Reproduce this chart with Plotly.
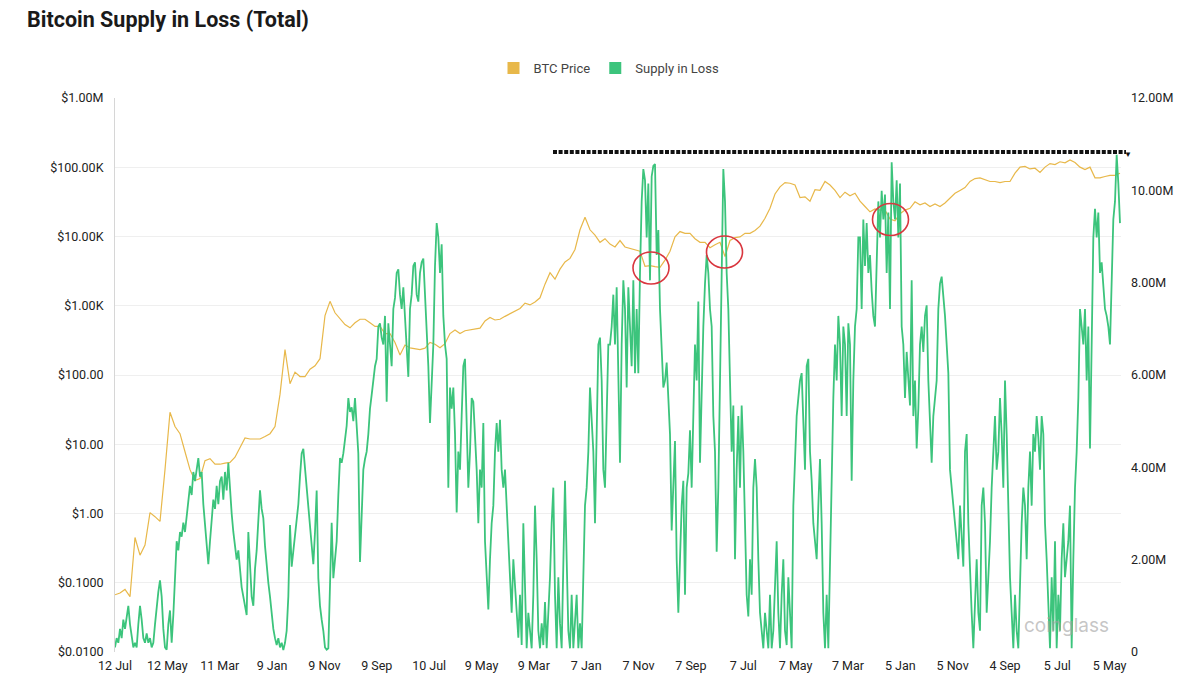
import numpy as np
import plotly.graph_objects as go

# ---------------- data ----------------
SAMPLE_DAYS = 9.678          # spacing of the supply samples, in chart days
PRICE_EVERY = 3              # one price sample every 3 supply samples
TICK_STEP_DAYS = 304
TICK_LABELS = ["12 Jul", "12 May", "11 Mar", "9 Jan", "9 Nov", "9 Sep", "10 Jul",
               "9 May", "9 Mar", "7 Jan", "7 Nov", "7 Sep", "7 Jul", "7 May",
               "7 Mar", "5 Jan", "5 Nov", "4 Sep", "5 Jul", "5 May"]

PRICE_TICKS = [0.01, 0.1, 1, 10, 100, 1e3, 1e4, 1e5, 1e6]
PRICE_TICK_TEXT = ["$0.0100", "$0.1000", "$1.00", "$10.00", "$100.00",
                   "$1.00K", "$10.00K", "$100.00K", "$1.00M"]
SUPPLY_TICKS = [0, 2, 4, 6, 8, 10, 12]
SUPPLY_TICK_TEXT = ["0", "2.00M", "4.00M", "6.00M", "8.00M", "10.00M", "12.00M"]

# Supply in loss, millions of BTC
SUPPLY_IN_LOSS_M = [
    0.1, 0.3, 0.2, 0.5, 0.3, 0.7, 0.5, 0.8, 1.0, 0.6,
    0.3, 0.1, 0.2, 0.1, 0.6, 1.0, 0.7, 0.3, 0.2, 0.4,
    0.2, 0.3, 0.1, 0.2, 0.6, 1.0, 1.3, 1.55, 1.2, 0.5,
    0.1, 0.05, 0.6, 0.9, 0.2, 0.8, 1.6, 2.4, 2.2, 2.6,
    2.5, 2.8, 2.6, 2.9, 3.3, 3.6, 3.4, 3.9, 3.7, 4.0,
    4.2, 3.8, 3.9, 3.2, 2.8, 2.3, 1.9, 2.4, 2.9, 3.3,
    3.1, 3.6, 3.2, 3.7, 3.8, 3.3, 3.9, 3.5, 4.1, 3.4,
    3.0, 2.6, 2.3, 2.0, 2.2, 1.7, 1.4, 1.2, 1.0, 0.8,
    2.6, 1.8, 1.2, 1.0, 1.8, 2.2, 2.9, 3.5, 3.1, 2.9,
    2.3, 1.85, 1.5, 1.2, 0.8, 0.5, 0.3, 0.15, 0.3, 0.1,
    0.2, 0.04, 0.2, 0.46, 1.2, 2.75, 1.85, 2.2, 2.4, 2.9,
    3.2, 3.8, 4.3, 4.4, 4.0, 3.6, 3.2, 2.8, 2.3, 1.9,
    2.6, 3.5, 1.6, 1.0, 0.7, 0.46, 0.1, 0.05, 0.08, 1.24,
    2.8, 1.6, 2.0, 2.4, 3.4, 4.2, 4.1, 4.3, 4.6, 4.9,
    5.5, 5.2, 5.3, 5.0, 5.5, 4.8, 4.3, 1.95,
    3.17, 3.95, 4.18, 4.34, 4.72, 5.27, 5.57, 5.88, 6.19, 6.35,
    7.05, 7.12, 6.81, 6.66, 7.28, 5.42, 7.12, 6.66, 6.19, 7.43,
    7.67, 8.21, 8.29, 7.74, 7.43, 7.90, 7.28, 6.66, 5.96, 7.43,
    7.74, 8.36, 8.44, 7.74, 7.59, 8.21, 8.44, 8.52, 7.74, 7.28,
    6.19, 4.96, 6.04, 6.66, 8.36, 9.29, 8.98, 8.21, 8.83, 7.28,
    6.66, 6.35, 3.56, 5.73, 5.27, 5.73, 4.72, 3.02, 4.34, 3.95,
    5.11, 6.19, 6.35, 5.11, 3.56, 4.34, 5.50, 5.42, 4.72, 3.95,
    2.79, 3.95, 3.56, 4.96, 2.40, 1.62, 0.92, 2.01, 2.79, 3.17,
    4.34, 4.96, 4.34, 5.03, 3.95, 3.56, 3.95, 3.17, 2.40, 1.85,
    0.85, 2.01, 1.39, 0.85, 0.31, 1.24, 0.15, 2.79, 1.24, 0.08,
    0.85, 0.46, 0.08, 1.24, 3.17, 2.01, 0.46, 0.08, 0.62, 0.15,
    1.08, 0.08, 0.85, 1.62, 2.79, 3.56, 1.24, 0.08, 1.62, 0.62,
    0.08, 2.01, 3.71, 2.01, 0.46, 0.08, 1.24, 0.08, 0.62, 1.24,
    0.08, 0.62, 0.08, 2.01, 3.17, 3.56, 4.34, 5.73, 5.11, 4.34,
    2.79, 5.11, 6.66, 6.81, 5.88, 3.95, 3.56, 5.11, 6.66,
    6.66, 7.05, 7.74, 6.66, 7.90, 6.27, 4.10, 6.66, 8.05, 7.43,
    5.73, 7.90, 7.05, 6.19, 8.05, 6.04, 7.43, 6.04, 8.21, 9.76,
    10.46, 10.22, 8.98, 10.15, 8.05, 10.30, 10.53, 10.57, 8.60, 9.14,
    7.43, 6.66, 5.73, 5.88, 6.27, 5.50, 4.72, 2.63, 3.56, 4.57,
    2.01, 0.85, 2.01, 3.17, 3.71, 1.24, 3.56, 3.87, 4.80, 3.56,
    5.11, 6.66, 5.88, 7.59, 4.10, 5.88, 7.05, 7.98, 8.60, 8.21,
    7.43, 7.05, 5.11, 4.34, 2.17, 3.56, 5.88, 7.43, 10.46, 9.76,
    8.21, 7.43, 5.88, 4.34, 5.34, 2.01, 3.95, 5.11, 3.56, 5.34,
    4.34, 2.79, 1.24, 0.77, 2.01, 1.24, 3.56, 4.18, 3.56, 2.01,
    0.85, 0.46, 0.08, 0.85, 0.46, 0.08, 1.24, 0.08, 0.46, 1.62,
    2.40, 0.85, 0.08, 1.24, 2.01, 0.46, 0.15, 1.62, 0.85, 0.08,
    3.17, 4.34, 5.11, 5.50, 5.88, 6.04, 5.11, 3.95, 6.19, 6.35,
    4.34, 3.71, 2.79, 2.40, 2.01, 3.17, 4.18, 2.79, 0.85, 0.08,
    1.24, 0.08, 2.01, 3.56, 5.50, 6.66, 5.88, 7.28, 6.66, 5.11,
    7.05, 6.66, 5.11, 7.12, 6.66, 3.71, 5.88, 7.05, 7.43, 8.98,
    8.98, 7.43, 9.37, 8.36, 9.29, 8.21, 8.60, 7.82, 7.28, 7.05,
    8.21, 9.76, 8.98, 9.99, 9.37, 9.91, 8.21, 9.52, 7.43, 10.61,
    9.76, 9.37, 10.22, 8.98, 10.15, 7.05, 6.66, 5.50, 6.50, 5.88,
    5.34, 8.05, 5.11, 5.88, 4.41, 5.27, 6.66, 7.05, 6.50, 7.28,
    7.51, 5.88, 5.11, 4.10, 5.11, 5.50, 5.88, 7.43, 7.98, 8.13,
    7.74, 7.28, 6.66, 6.04, 3.95, 3.56, 3.17, 2.94, 2.40, 2.01,
    3.17, 2.40, 1.85, 4.34, 4.72, 2.79, 1.62, 0.85, 0.08, 1.24,
    2.01, 0.85, 0.46, 3.17, 3.56, 2.79, 0.85, 1.62, 2.40, 3.56,
    4.34, 5.11, 3.95, 4.34, 5.50, 4.72, 3.56, 5.88, 4.72, 2.79,
    1.62, 0.85, 0.08, 1.24, 0.46, 0.08, 1.62, 2.79, 3.56, 3.17,
    2.01, 3.56, 4.34, 3.17, 4.72, 4.34, 5.11, 4.65, 3.95, 5.11,
    4.72, 2.79, 2.01, 0.85, 0.08, 1.62, 0.46, 2.40, 0.08, 1.24,
    0.46, 2.01, 2.79, 1.62, 2.01, 2.40, 3.17, 0.08, 2.01, 3.56,
    4.34, 5.50, 7.43, 7.05, 6.66, 7.43, 5.88, 7.05, 4.41, 6.66,
    8.98, 9.60, 8.98, 9.52, 8.21, 8.44, 7.82, 7.43, 7.28, 7.05,
    6.66, 7.82, 9.37, 9.76, 10.77, 10.15, 9.29,
]

# BTC price, USD
BTC_PRICE = [
    0.067, 0.071, 0.080, 0.063, 0.45, 0.25, 0.35, 1.03, 0.90, 0.77,
    4.3, 29.0, 18.0, 14.2, 7.8, 4.3, 3.0, 3.2, 5.8, 6.2,
    5.15, 5.15, 5.35, 5.47, 6.5, 8.8, 12.3, 11.9, 11.9, 11.9,
    12.9, 14.2, 18.0, 52.5, 232, 75, 110, 95, 95, 121,
    136, 172, 719, 1158, 791, 638, 534, 480, 567,
    638, 638, 567, 503, 503, 397, 397, 295, 194, 271,
    247, 238, 232, 244, 295, 278, 247, 284, 397, 447,
    397, 436, 447, 463, 474, 602, 678, 623, 638, 703,
    764, 840, 913, 1092, 1028, 1131, 1303, 2050, 3000, 2422,
    3381, 4287, 4830, 6503, 12500, 18970, 12500, 10470, 8250, 9290,
    7770, 7060, 8750, 7060, 6730, 6503, 6120, 3720, 3800, 3670,
    3590, 4550, 6120, 9860, 11780, 11110, 11110, 9290, 8250, 8250,
    6900, 7590, 8250, 5130, 8750, 9620, 9860, 11110, 11110, 12220,
    14090, 18320, 25550, 41110, 52120, 60100, 58750, 55340, 36500, 37400,
    32400, 47400, 46300, 62300, 55340, 46300, 36500, 43650, 38750, 42100,
    32400, 27100, 22700, 24950, 24050, 24050, 17870, 16800, 21360, 24050,
    25550, 31650, 28770, 30530, 27100, 29460, 27100, 30530, 36500, 42100,
    46300, 50900, 62300, 68560, 70260, 66980, 62300, 62300, 60100, 62300,
    62300, 82030, 100400, 102800, 94600, 96860, 83950, 100400, 113100, 109100,
    120000, 115800, 127400, 117200, 100400, 92300, 100400, 70260, 70260, 73600,
    76300, 76300, 82030,
]

# ---------------- styling ----------------
GREEN = "#3cc47c"
YELLOW = "#e8b84a"
FONT = "Roboto"
W, H = 1200, 675
PLOT_L, PLOT_R, PLOT_T, PLOT_B = 115, 1121, 98, 652


def px(xp, yp):
    """pixel position -> paper coordinates (for decorations only)"""
    return ((xp - PLOT_L) / (PLOT_R - PLOT_L), (PLOT_B - yp) / (PLOT_B - PLOT_T))


x_supply = np.arange(len(SUPPLY_IN_LOSS_M)) * SAMPLE_DAYS
x_price = np.arange(len(BTC_PRICE)) * SAMPLE_DAYS * PRICE_EVERY
x_end = (PLOT_R - PLOT_L) * 0.6 * SAMPLE_DAYS   # 0.6 samples per pixel

fig = go.Figure()
fig.add_trace(go.Scatter(x=x_price, y=BTC_PRICE, mode="lines", yaxis="y",
                         line=dict(color=YELLOW, width=1.2), showlegend=False,
                         hoverinfo="skip"))
fig.add_trace(go.Scatter(x=x_supply, y=SUPPLY_IN_LOSS_M, mode="lines", yaxis="y2",
                         line=dict(color=GREEN, width=1.8), showlegend=False,
                         hoverinfo="skip"))
# legend swatches (square markers like the reference)
fig.add_trace(go.Scatter(x=[None], y=[None], mode="markers", name="BTC Price",
                         marker=dict(symbol="square", size=12, color=YELLOW)))
fig.add_trace(go.Scatter(x=[None], y=[None], mode="markers", name="Supply in Loss",
                         yaxis="y2",
                         marker=dict(symbol="square", size=12, color=GREEN)))

shapes = []
# dotted resistance line
x0, y0 = px(553, 152)
x1, _ = px(1126, 152)
shapes.append(dict(type="line", xref="paper", yref="paper", x0=x0, x1=x1, y0=y0, y1=y0,
                   line=dict(color="#111111", width=4, dash="4px,1.6px"), layer="above"))
# red circles
for cx, cy in [(651, 268), (724.5, 252), (890.5, 219.5)]:
    a0, b0 = px(cx - 18, cy + 16)
    a1, b1 = px(cx + 18, cy - 16)
    shapes.append(dict(type="circle", xref="paper", yref="paper", x0=a0, x1=a1, y0=b0, y1=b1,
                       line=dict(color="#d9363e", width=1.6), layer="above"))

ax, ay = px(1128, 154)
wx, wy = px(1066, 625)
annotations = [
    dict(xref="paper", yref="paper", x=ax, y=ay, text="▼", showarrow=False,
         font=dict(size=8, color="#111111"), xanchor="center", yanchor="middle"),
    dict(xref="paper", yref="paper", x=wx, y=wy, text="coinglass", showarrow=False,
         font=dict(size=19, color="rgba(160,160,160,0.6)", family="Inter"),
         xanchor="center", yanchor="middle"),
]

lx, ly = px(609, 68)
fig.update_layout(
    width=W, height=H,
    paper_bgcolor="white", plot_bgcolor="white",
    margin=dict(l=PLOT_L, r=W - PLOT_R, t=PLOT_T, b=H - PLOT_B, autoexpand=False),
    font=dict(family=FONT, size=12, color="#222222"),
    title=dict(text="<b>Bitcoin Supply in Loss (Total)</b>", x=27 / W, xanchor="left",
               xref="container", y=1 - 19 / H, yref="container", yanchor="middle",
               font=dict(family=FONT, size=21.5, color="#1a1a1a")),
    legend=dict(orientation="h", x=lx, xanchor="center", y=ly, yanchor="middle",
                font=dict(size=13, color="#444444"), itemwidth=30,
                bgcolor="rgba(0,0,0,0)"),
    xaxis=dict(range=[0, x_end], tickvals=[i * TICK_STEP_DAYS for i in range(len(TICK_LABELS))],
               ticktext=TICK_LABELS, showgrid=False, zeroline=False, showline=False,
               ticks="", ticklabelstandoff=4, tickfont=dict(size=12.5, color="#222222"),
               automargin=False),
    yaxis=dict(type="log", range=[-2, 6], tickvals=PRICE_TICKS, ticktext=PRICE_TICK_TEXT,
               showgrid=True, gridcolor="#efefef", gridwidth=1, zeroline=False,
               showline=True, linecolor="#d6d6d6", linewidth=1, ticks="",
               ticklabelstandoff=8, tickfont=dict(size=12.5, color="#222222"),
               automargin=False),
    yaxis2=dict(overlaying="y", side="right", range=[0, 12], tickvals=SUPPLY_TICKS,
                ticktext=SUPPLY_TICK_TEXT, showgrid=False, zeroline=False,
                showline=False, ticks="", ticklabelstandoff=9,
                tickfont=dict(size=12.5, color="#222222"), automargin=False),
    shapes=shapes,
    annotations=annotations,
)

fig.write_html("out.html")
